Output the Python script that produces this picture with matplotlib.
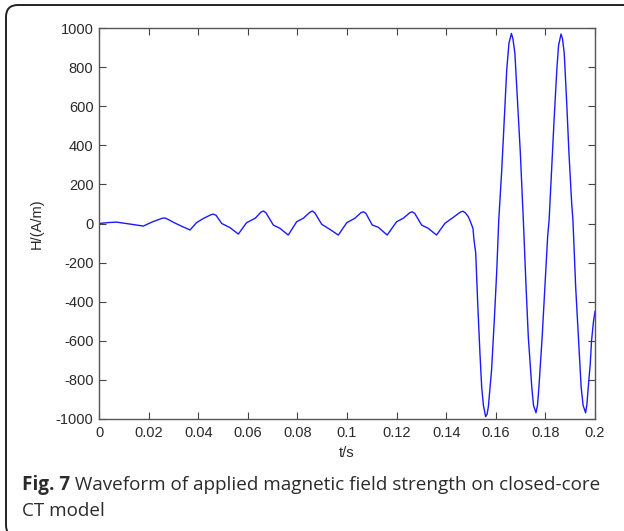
import matplotlib
matplotlib.use('Agg')
import matplotlib.pyplot as plt
from matplotlib.patches import FancyBboxPatch

plt.rcParams['font.family'] = ['Liberation Sans', 'DejaVu Sans']
plt.rcParams['axes.unicode_minus'] = False

# waveform: time (s) and field strength (A/m)
t = [0.0, 0.0040, 0.0071, 0.0120, 0.0179, 0.0215, 0.0255, 0.0266, 0.0280,
     0.0305, 0.0335, 0.0367, 0.0394, 0.0420, 0.0450, 0.0460, 0.0472,
     0.0495, 0.0528, 0.0562, 0.0595, 0.0630, 0.0653, 0.0663, 0.0673,
     0.0703, 0.0730, 0.0763, 0.0797, 0.0824, 0.0850, 0.0860, 0.0870,
     0.0898, 0.0931, 0.0965, 0.0999, 0.1032, 0.1056, 0.1066, 0.1076,
     0.1102, 0.1126, 0.1162, 0.1200, 0.1227, 0.1253, 0.1263, 0.1273,
     0.1301, 0.1328, 0.1361, 0.1395, 0.1429, 0.1457, 0.1467, 0.1477,
     0.1489, 0.1496, 0.1508, 0.1512, 0.1519, 0.1527, 0.1536, 0.1543,
     0.1550, 0.1559, 0.1565, 0.1570, 0.1583, 0.1594, 0.1604, 0.1612,
     0.1624, 0.1634, 0.1644, 0.1653, 0.1663, 0.1669, 0.1677, 0.1688,
     0.1699, 0.1708, 0.1711, 0.1722, 0.1731, 0.1745, 0.1752, 0.1762,
     0.1768, 0.1774, 0.1787, 0.1798, 0.1809, 0.1815, 0.1825, 0.1835,
     0.1846, 0.1853, 0.1863, 0.1869, 0.1876, 0.1886, 0.1895, 0.1906,
     0.1911, 0.1922, 0.1933, 0.1944, 0.1952, 0.1962, 0.1967, 0.1973,
     0.1981, 0.1986, 0.1994, 0.2000]
H = [0, 5, 7, -2, -13, 8, 27, 28, 20,
     3, -15, -33, 5, 25, 44, 48, 42,
     0, -21, -54, 4, 27, 58, 64, 55,
     -8, -25, -59, 9, 27, 57, 64, 55,
     -4, -30, -59, 4, 27, 55, 60, 52,
     -8, -19, -59, 9, 27, 55, 60, 52,
     -8, -25, -59, 1, 32, 58, 63, 55,
     35, 15, -25, -84, -151, -407, -662, -835,
     -930, -988, -975, -937, -749, -494, -238, 20,
     274, 529, 785, 922, 972, 945, 870, 615,
     359, 103, 18, -323, -579, -835, -930, -968,
     -930, -835, -579, -323, -68, 18, 274, 529,
     785, 910, 969, 945, 870, 615, 359, 103,
     18, -323, -579, -835, -930, -968, -930, -835,
     -715, -600, -500, -450]

xticks = [0, 0.02, 0.04, 0.06, 0.08, 0.1, 0.12, 0.14, 0.16, 0.18, 0.2]
xlabels = ['0', '0.02', '0.04', '0.06', '0.08', '0.1', '0.12', '0.14', '0.16', '0.18', '0.2']
yticks = list(range(-1000, 1001, 200))

caption_bold = 'Fig. 7'
caption_rest = ' Waveform of applied magnetic field strength on closed-core'
caption_line2 = 'CT model'

fig = plt.figure(figsize=(6.24, 5.31), dpi=100)
W, Hpx = 624, 531

# rounded frame around the figure, in inches (bottom and right run off the image)
frame = FancyBboxPatch((0.06, -0.06), 6.30, 5.31 - 0.05 + 0.06,
                       boxstyle='round,pad=0,rounding_size=0.12',
                       transform=fig.dpi_scale_trans, fill=False,
                       edgecolor='#222222', linewidth=1.4)
fig.patches.append(frame)

ax = fig.add_axes([99 / W, 1 - 419 / Hpx, (595 - 99) / W, (419 - 28) / Hpx])
ax.plot(t, H, color='#1a1aff', linewidth=1.0)

ax.set_xlim(0, 0.2)
ax.set_ylim(-1000, 1000)
ax.set_xticks(xticks)
ax.set_xticklabels(xlabels)
ax.set_yticks(yticks)
ax.tick_params(direction='in', length=5, width=0.8, top=True, right=True,
               labelsize=10.5, labelcolor='#2a2a2a', color='#444444')
ax.tick_params(axis='x', pad=5)
ax.tick_params(axis='y', pad=4)
for s in ax.spines.values():
    s.set_color('#555555')
    s.set_linewidth(1.0)
ax.set_xlabel('t/s', fontsize=10.5, color='#2a2a2a')
ax.set_ylabel('H/(A/m)', fontsize=10.5, color='#2a2a2a')
ax.xaxis.set_label_coords(0.5, -(446 - 419) / 391)
ax.yaxis.set_label_coords(-(99 - 44) / 496, 0.5)

cap_font = ['Open Sans', 'DejaVu Sans']
cap_size = 13.6
x0 = 22 / W
b = fig.text(x0, 1 - 490 / Hpx, caption_bold, fontsize=cap_size, fontweight='bold',
             family=cap_font, color='#2b2b2b', va='baseline')
fig.canvas.draw()
bb = b.get_window_extent()
fig.text(bb.x1 / W, 1 - 490 / Hpx, caption_rest, fontsize=cap_size,
         family=cap_font, color='#2b2b2b', va='baseline')
fig.text(x0, 1 - 516 / Hpx, caption_line2, fontsize=cap_size,
         family=cap_font, color='#2b2b2b', va='baseline')

fig.savefig('out.png', dpi=100)
